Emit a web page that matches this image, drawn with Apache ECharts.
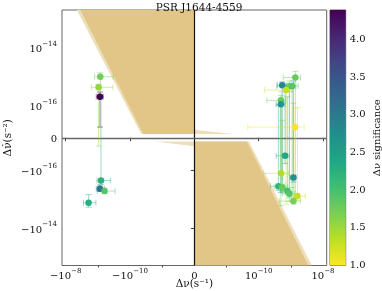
<!DOCTYPE html>
<html><head><meta charset="utf-8">
<script src="https://cdn.jsdelivr.net/npm/echarts@6/dist/echarts.min.js"></script>
<style>html,body{margin:0;padding:0;background:#fff}#c{width:382px;height:291px}</style>
</head><body><div id="c"></div>
<script>
// ---- data ----
const dNu      = [-8.4e-10,-9.5e-10,-8.6e-10,-8.0e-10,-8.6e-10,-6.2e-10,-1.94e-9,
                  1.38e-9,5.4e-10,9.0e-10,1.1e-9,7.1e-10,4.9e-10,4.9e-10,1.35e-9,
                  6.6e-10,5.0e-10,1.2e-9,4.1e-10,5.4e-10,7.8e-10,9.0e-10,1.6e-9,1.2e-9];
const dNuLo    = [-1.26e-9,-1.6e-9,-1.12e-9,-1.07e-9,-1.12e-9,-1.04e-9,-2.8e-9,
                  5.8e-10,3.8e-10,3.6e-10,7.0e-10,1.5e-10,1.8e-10,3.5e-10,4.6e-11,
                  3.5e-10,1.4e-10,9.4e-10,2.3e-10,3.0e-10,5.0e-10,5.5e-10,1.07e-9,4.4e-10];
const dNuHi    = [-3.3e-10,-3.4e-10,-6.8e-10,-4.1e-10,-6.3e-10,-2.9e-10,-1.15e-9,
                  2.0e-9,7.5e-10,1.45e-9,1.7e-9,1.09e-9,7.0e-10,6.5e-10,2.6e-9,
                  9.0e-10,8.4e-10,1.45e-9,6.6e-10,8.0e-10,1.1e-9,1.3e-9,2.8e-9,2.0e-9];
const dNuDot   = [9.7e-16,4.2e-16,2.0e-16,-2.3e-16,-4.4e-16,-5.3e-16,-1.33e-15,
                  9.2e-16,5.0e-16,4.6e-16,4.6e-16,3.4e-16,1.5e-16,1.1e-16,3.3e-17,
                  -5.6e-17,-1.3e-16,-1.8e-16,-3.6e-16,-3.9e-16,-5.3e-16,-6.5e-16,-7.9e-16,-1.17e-15];
const dNuDotLo = [2.3e-16,-2.6e-17,3.3e-17,-3.1e-16,-5.5e-16,-6.5e-16,-1.9e-15,
                  -9e-16,-5e-16,-1.2e-15,-4e-16,-1.5e-15,-1.7e-15,-6e-16,-1.0e-15,
                  -8e-17,-2e-16,-2.6e-16,-5e-16,-5.5e-16,-7e-16,-9e-16,-1.1e-15,-1.5e-15];
const dNuDotHi = [1.33e-15,5.4e-16,2.9e-16,1.9e-16,-3.3e-16,-4.2e-16,-7.0e-16,
                  1.5e-15,6.5e-16,7e-16,6e-16,4.5e-16,2.2e-16,1.5e-16,9.3e-17,
                  5e-16,3e-16,7e-16,1e-16,5.4e-17,2e-16,3e-16,9.3e-17,1.2e-16];
const significance = [1.75,1.55,4.39,2.25,3.1,1.9,2.3,
                  1.8,2.8,1.8,1.9,1.3,1.8,2.6,1.05,
                  2.4,1.4,2.7,2.2,1.8,2.0,1.9,1.3,1.7];
// shaded regions, vertices as [Δν, Δν̇]
const shadeLightTL = [[-4.5e-9,1.93e-13],[-4.5e-11,1.2e-17],[0,1.2e-17],[0,1.93e-13]];
const shadeDarkTL  = [[-3.5e-9,1.93e-13],[-3.9e-11,1.2e-17],[0,1.2e-17],[0,1.93e-13]];
const shadeSliverTR= [[0,2.5e-17],[1.6e-11,1.2e-17],[0,1.2e-17]];
const shadeSliverBL= [[-1.65e-11,-1.2e-17],[0,-1.2e-17],[0,-2.6e-17]];
const shadeLightBR = [[0,-1.2e-17],[5.0e-11,-1.2e-17],[4.5e-9,-1.93e-13],[0,-1.93e-13]];
const shadeDarkBR  = [[0,-1.2e-17],[4.3e-11,-1.2e-17],[3.5e-9,-1.93e-13],[0,-1.93e-13]];
// ticks
const xTickValues = [-1e-8,-1e-10,0,1e-10,1e-8];
const xTickBase   = ['−10','−10','0','10','10'];
const xTickExp    = ['−8','−10','','−10','−8'];
const xMinorValues = [-1e-9,-1e-11,1e-11,1e-9];
const yTickValues = [-1e-14,-1e-16,0,1e-16,1e-14];
const yTickBase   = ['−10','−10','0','10','10'];
const yTickExp    = ['−14','−16','','−16','−14'];
const cbMin = 1.0, cbMax = 4.39;
const viridis = ['#440154','#482475','#414487','#355f8d','#2a788e','#21918c','#22a884','#44bf70','#7ad151','#bddf26','#fde725'];

// ---- symlog transforms ----
function sx(v){ const L=1e-11, a=Math.abs(v); return a<=L ? v/L : Math.sign(v)*(Math.log10(a/L)+1); }
function sy(v){ const L=1e-16, c=1/(1-0.1), a=Math.abs(v); return a<=L ? v/L*c : Math.sign(v)*(Math.log10(a/L)+c); }

const FONT = 'DejaVu Serif';
const rich = {
  b:{fontFamily:FONT,fontSize:10,color:'#111',lineHeight:14,verticalAlign:'bottom'},
  s:{fontFamily:FONT,fontSize:7,color:'#111',lineHeight:8,verticalAlign:'top'}
};
function mkFmt(vals, base, exp, tf){
  const tv = vals.map(tf);
  return function(v){
    let i = 0, best = 1e9;
    tv.forEach((t,k)=>{ if(Math.abs(t-v)<best){best=Math.abs(t-v);i=k;} });
    return exp[i] ? '{b|'+base[i]+'}{s|'+exp[i]+'}' : '{b|'+base[i]+'}';
  };
}

const pts = dNu.map((x,i)=>[sx(x),sy(dNuDot[i]),sx(dNuLo[i]),sx(dNuHi[i]),sy(dNuDotLo[i]),sy(dNuDotHi[i]),significance[i]]);
const polys = [shadeLightTL, shadeDarkTL, shadeSliverTR, shadeSliverBL, shadeLightBR, shadeDarkBR];
const polyFill = ['#eedfbb','#e1c688','#eedfbb','#eedfbb','#eedfbb','#e1c688'];

const XR = 4.115, YR = 4.397;
const nameStyle = {fontFamily:FONT,fontSize:10.5,color:'#111'};
const chart = echarts.init(document.getElementById('c'), null, {renderer:'canvas'});
chart.setOption({
  animation:false,
  backgroundColor:'#fff',
  title:{text:'PSR J1644-4559', left:194, top:-2, textAlign:'center',
    textStyle:{fontFamily:FONT,fontSize:10.5,fontWeight:'normal',color:'#111'}},
  grid:[
    {left:62, top:10, width:264.7, height:255.5, show:true, borderColor:'#666', borderWidth:1, backgroundColor:'#fff', outerBoundsMode:'none', containLabel:false},
    {left:330, top:10, width:15.7, height:255.5, show:true, borderColor:'#666', borderWidth:1, outerBoundsMode:'none', containLabel:false}
  ],
  xAxis:[
    {type:'value', gridIndex:0, min:-XR, max:XR, position:'bottom',
     axisLine:{show:false}, splitLine:{show:false},
     axisTick:{show:true, length:3.5, customValues:xTickValues.map(sx), lineStyle:{color:'#444'}},
     axisLabel:{show:true, margin:2, customValues:xTickValues.map(sx), formatter:mkFmt(xTickValues,xTickBase,xTickExp,sx), rich:rich},
     name:'Δν(s⁻¹)', nameLocation:'middle', nameGap:13, nameMoveOverlap:false, nameTextStyle:nameStyle},
    {type:'value', gridIndex:0, min:-XR, max:XR, position:'bottom', offset:0,
     axisLine:{show:false}, splitLine:{show:false},
     axisTick:{show:true, length:2, customValues:xMinorValues.map(sx), lineStyle:{color:'#444'}},
     axisLabel:{show:false}},
    {type:'value', gridIndex:1, min:0, max:1, show:false}
  ],
  yAxis:[
    {type:'value', gridIndex:0, min:-YR, max:YR,
     axisLine:{show:false}, splitLine:{show:false},
     axisTick:{show:true, length:3.5, customValues:yTickValues.map(sy), lineStyle:{color:'#444'}},
     axisLabel:{show:true, margin:5, customValues:yTickValues.map(sy), formatter:mkFmt(yTickValues,yTickBase,yTickExp,sy), rich:rich},
     name:'Δν̇(s⁻²)', nameLocation:'middle', nameGap:48, nameMoveOverlap:false, nameTextStyle:nameStyle},
    {type:'value', gridIndex:1, min:cbMin, max:cbMax, interval:0.5, position:'right',
     axisLine:{show:false}, splitLine:{show:false},
     axisTick:{show:true, length:3, lineStyle:{color:'#444'}},
     axisLabel:{show:true, margin:4, fontFamily:FONT, fontSize:10, color:'#111',
       formatter:v=>v.toFixed(1), showMaxLabel:false},
     name:'Δν significance', nameLocation:'middle', nameGap:27, nameMoveOverlap:false,
     nameTextStyle:{fontFamily:FONT,fontSize:10,color:'#111'}}
  ],
  visualMap:[{type:'continuous', show:false, min:cbMin, max:cbMax, dimension:6, seriesIndex:[1,2],
    inRange:{color:viridis.slice().reverse()}}],
  series:[
    {type:'custom', xAxisIndex:0, yAxisIndex:0, clip:true, silent:true, z:1,
     data:polys.map(p=>[sx(p[0][0]),sy(p[0][1])]),
     renderItem:function(params, api){
       const poly = polys[params.dataIndex];
       const points = poly.map(p=>api.coord([sx(p[0]),sy(p[1])]));
       return {type:'polygon', shape:{points:points}, style:{fill:polyFill[params.dataIndex]}};
     }},
    {type:'custom', xAxisIndex:0, yAxisIndex:0, clip:true, z:3,
     data:pts, encode:{x:0,y:1},
     renderItem:function(params, api){
       const x=api.value(0), y=api.value(1);
       const c=api.coord([x,y]);
       const xl=api.coord([api.value(2),y]), xh=api.coord([api.value(3),y]);
       const yl=api.coord([x,api.value(4)]), yh=api.coord([x,api.value(5)]);
       const col=api.visual('color'), cap=3;
       const st={stroke:col, lineWidth:1, opacity:0.45};
       const L=(x1,y1,x2,y2)=>({type:'line', shape:{x1,y1,x2,y2}, style:st});
       return {type:'group', children:[
         L(xl[0],c[1],xh[0],c[1]), L(xl[0],c[1]-cap,xl[0],c[1]+cap), L(xh[0],c[1]-cap,xh[0],c[1]+cap),
         L(c[0],yl[1],c[0],yh[1]), L(c[0]-cap,yl[1],c[0]+cap,yl[1]), L(c[0]-cap,yh[1],c[0]+cap,yh[1])
       ]};
     }},
    {type:'scatter', xAxisIndex:0, yAxisIndex:0, z:4, symbol:'circle', symbolSize:6.5,
     data:pts, encode:{x:0,y:1}, itemStyle:{opacity:1},
     markLine:{silent:true, symbol:['none','none'], label:{show:false}, animation:false, z:2,
       data:[{xAxis:0, lineStyle:{color:'#111',width:1.2,type:'solid'}},
             {yAxis:0, lineStyle:{color:'#666',width:1.4,type:'solid'}}]}},
    {type:'custom', xAxisIndex:2, yAxisIndex:1, silent:true,
     data:[[0,cbMin]],
     renderItem:function(params, api){
       const a=api.coord([0,cbMax]), b=api.coord([1,cbMin]);
       const stops=viridis.map((c,i)=>({offset:i/(viridis.length-1), color:c}));
       return {type:'rect', shape:{x:a[0],y:a[1],width:b[0]-a[0],height:b[1]-a[1]},
         style:{fill:new echarts.graphic.LinearGradient(0,0,0,1,stops)}};
     }}
  ]
});
</script></body></html>
